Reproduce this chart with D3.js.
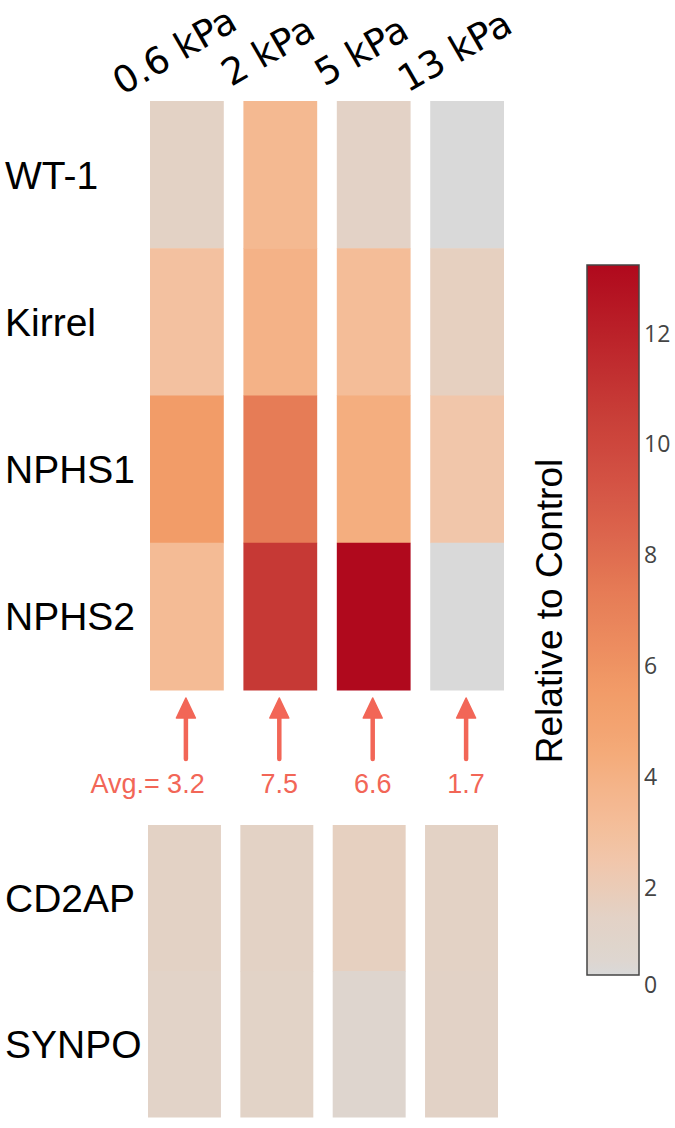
<!DOCTYPE html>
<html>
<head>
<meta charset="utf-8">
<script src="https://cdn.jsdelivr.net/npm/d3@7"></script>
<style>
  html, body { margin: 0; padding: 0; background: #fff; }
  svg { display: block; }
</style>
</head>
<body>
<svg id="chart" width="675" height="1128"></svg>
<script>
// ---------- data ----------
const stiffness = ["0.6 kPa", "2 kPa", "5 kPa", "13 kPa"];
const topGenes = ["WT-1", "Kirrel", "NPHS1", "NPHS2"];
const bottomGenes = ["CD2AP", "SYNPO"];
// values per gene, one per stiffness (relative to control)
const wt1Values    = [1.5, 3.5, 1.45, 0.0];
const kirrelValues = [2.9, 3.9, 3.2, 1.7];
const nphs1Values  = [5.5, 7.3, 4.2, 2.5];
const nphs2Values  = [3.35, 10.8, 13.2, 0.0];
const cd2apValues  = [1.5, 1.5, 1.7, 1.5];
const synpoValues  = [1.3, 1.35, 0.8, 1.4];
const avgLabels = ["3.2", "7.5", "6.6", "1.7"];
const colorbarTicks = [0, 2, 4, 6, 8, 10, 12];
const colorStopValues = [0, 1.5, 2.5, 3.2, 3.8, 4.5, 5.5, 7.3, 9, 10.8, 13.2];
const colorStopColors = ["#d9d9d9", "#e3d2c5", "#f1c6aa", "#f4bd98", "#f4b48a", "#f4a977",
                         "#f29c68", "#e67c56", "#d65847", "#c63935", "#b0091d"];
const colorbarMin = 0.43, colorbarMax = 13.23;

const topRows = [wt1Values, kirrelValues, nphs1Values, nphs2Values];
const bottomRows = [cd2apValues, synpoValues];

// ---------- setup ----------
const svg = d3.select("#chart");
const color = d3.scaleLinear().domain(colorStopValues).range(colorStopColors)
  .interpolate(d3.interpolateRgb).clamp(true);

const xTop = d3.scaleBand().domain(stiffness).range([150, 504]).paddingInner(0.21);
const xBot = d3.scaleBand().domain(stiffness).range([148, 498]).paddingInner(0.21);
const yTop = d3.scaleBand().domain(topGenes).range([101, 690]);
const yBot = d3.scaleBand().domain(bottomGenes).range([825, 1117]);

function cells(genes, rows) {
  const out = [];
  genes.forEach((g, gi) => stiffness.forEach((s, si) => out.push({gene: g, stiff: s, v: rows[gi][si]})));
  return out;
}

// heat cells
svg.append("g").selectAll("rect").data(cells(topGenes, topRows)).join("rect")
  .attr("x", d => xTop(d.stiff)).attr("y", d => yTop(d.gene))
  .attr("width", xTop.bandwidth()).attr("height", yTop.bandwidth() + 0.5)
  .attr("fill", d => color(d.v));

svg.append("g").selectAll("rect").data(cells(bottomGenes, bottomRows)).join("rect")
  .attr("x", d => xBot(d.stiff)).attr("y", d => yBot(d.gene))
  .attr("width", xBot.bandwidth()).attr("height", yBot.bandwidth() + 0.5)
  .attr("fill", d => color(d.v));

// column labels (rotated)
svg.append("g").selectAll("text").data(stiffness).join("text")
  .attr("transform", d => `translate(${xTop(d) + xTop.bandwidth() / 2 - 6},62) rotate(-30)`)
  .attr("text-anchor", "middle")
  .attr("font-family", "DejaVu Sans, sans-serif")
  .attr("font-size", 37)
  .attr("fill", "#000")
  .text(d => d);

// row labels
const rowLabelFont = "Liberation Sans, Arial, sans-serif";
svg.append("g").selectAll("text").data(topGenes).join("text")
  .attr("x", 5).attr("y", d => yTop(d) + yTop.bandwidth() / 2)
  .attr("dy", "0.36em")
  .attr("font-family", rowLabelFont).attr("font-size", 39).attr("fill", "#000")
  .text(d => d);
svg.append("g").selectAll("text").data(bottomGenes).join("text")
  .attr("x", 5).attr("y", d => yBot(d) + yBot.bandwidth() / 2)
  .attr("dy", "0.36em")
  .attr("font-family", rowLabelFont).attr("font-size", 39).attr("fill", "#000")
  .text(d => d);

// arrows and averages
const arrowColor = "#f26657";
const arrows = svg.append("g");
stiffness.forEach((s, i) => {
  const cx = xTop(s) + xTop.bandwidth() / 2 - 1;
  arrows.append("line")
    .attr("x1", cx).attr("x2", cx).attr("y1", 759).attr("y2", 712)
    .attr("stroke", arrowColor).attr("stroke-width", 4.5).attr("stroke-linecap", "round");
  arrows.append("path")
    .attr("d", `M${cx},698 L${cx + 9.5},718 L${cx - 9.5},718 Z`)
    .attr("fill", arrowColor).attr("stroke", arrowColor).attr("stroke-width", 1.5)
    .attr("stroke-linejoin", "round");
  arrows.append("text")
    .attr("x", cx).attr("y", 793)
    .attr("text-anchor", "middle")
    .attr("font-family", rowLabelFont).attr("font-size", 27).attr("fill", arrowColor)
    .text(avgLabels[i]);
  if (i === 0) {
    arrows.append("text")
      .attr("x", cx - 26).attr("y", 793)
      .attr("text-anchor", "end")
      .attr("font-family", rowLabelFont).attr("font-size", 27).attr("fill", arrowColor)
      .text("Avg.=");
  }
});

// ---------- colorbar ----------
const cbX = 587, cbW = 52;
const yC = d3.scaleLinear().domain([colorbarMin, colorbarMax]).range([975, 265]);
const defs = svg.append("defs");
const grad = defs.append("linearGradient").attr("id", "cbgrad")
  .attr("x1", 0).attr("y1", 1).attr("x2", 0).attr("y2", 0);
d3.range(0, 1.0001, 0.02).forEach(t => {
  const v = t === 0 ? 0 : colorbarMin + t * (colorbarMax - colorbarMin);
  grad.append("stop").attr("offset", t).attr("stop-color", color(v));
});
svg.append("rect")
  .attr("x", cbX).attr("y", yC.range()[1])
  .attr("width", cbW).attr("height", yC.range()[0] - yC.range()[1])
  .attr("fill", "url(#cbgrad)")
  .attr("stroke", "#444").attr("stroke-width", 1.5);

svg.append("g").selectAll("text").data(colorbarTicks).join("text")
  .attr("x", cbX + cbW + 5)
  .attr("y", d => Math.min(yC(d), yC.range()[0] + 10))
  .attr("dy", "0.36em")
  .attr("font-family", "Open Sans, sans-serif").attr("font-size", 23).attr("fill", "#444")
  .text(d => d);

svg.append("text")
  .attr("transform", `translate(562,611) rotate(-90)`)
  .attr("text-anchor", "middle")
  .attr("font-family", rowLabelFont).attr("font-size", 37).attr("fill", "#000")
  .text("Relative to Control");
</script>
</body>
</html>
